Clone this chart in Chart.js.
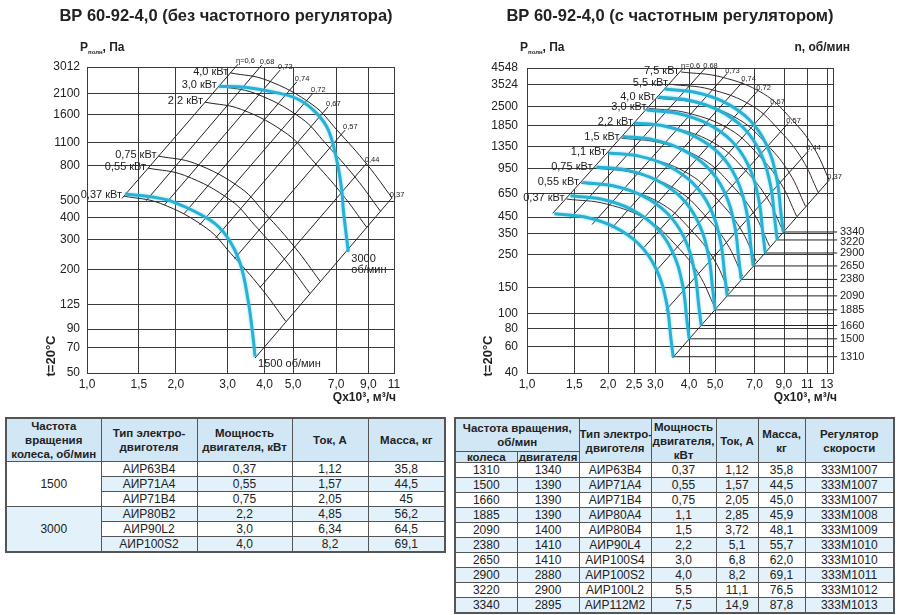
<!DOCTYPE html>
<html>
<head>
<meta charset="utf-8">
<script src="https://cdn.jsdelivr.net/npm/chart.js@4.4.1/dist/chart.umd.min.js"></script>
<style>
body{margin:0;width:900px;height:615px;background:#fff;position:relative;overflow:hidden;font-family:"Liberation Sans",Arial,sans-serif}
canvas{position:absolute;top:0}
#leftChart{left:0}
#rightChart{left:450px}
table{position:absolute;border-collapse:collapse;table-layout:fixed;color:#222;font-size:12px;border:2px solid #555}
th,td{border:1px solid #555;padding:0;text-align:center;white-space:nowrap;overflow:hidden}
th{background:#d2e7f5;font-weight:bold;font-size:11.5px;line-height:14px}
td{height:14px;line-height:14px}
tr.b td,td.b{background:#e3f1fa}
td.w{background:#fff}
</style>
</head>
<body>
<canvas id="leftChart" width="450" height="405"></canvas>
<canvas id="rightChart" width="450" height="405"></canvas>

<table style="left:5px;top:417px;width:439px">
<colgroup><col style="width:95px"><col style="width:96px"><col style="width:95px"><col style="width:76px"><col style="width:77px"></colgroup>
<tr><th style="height:42px">Частота<br>вращения<br>колеса, об/мин</th><th>Тип электро-<br>двиготеля</th><th>Мощность<br>двигателя, кВт</th><th>Ток, А</th><th>Масса, кг</th></tr>
<tr><td class="w" rowspan="3">1500</td><td>АИР63В4</td><td>0,37</td><td>1,12</td><td>35,8</td></tr>
<tr class="b"><td>АИР71А4</td><td>0,55</td><td>1,57</td><td>44,5</td></tr>
<tr><td>АИР71В4</td><td>0,75</td><td>2,05</td><td>45</td></tr>
<tr class="b"><td class="b" rowspan="3">3000</td><td>АИР80В2</td><td>2,2</td><td>4,85</td><td>56,2</td></tr>
<tr><td>АИР90L2</td><td>3,0</td><td>6,34</td><td>64,5</td></tr>
<tr class="b"><td>АИР100S2</td><td>4,0</td><td>8,2</td><td>69,1</td></tr>
</table>

<table style="left:454px;top:417px;width:439px">
<colgroup><col style="width:62px"><col style="width:62px"><col style="width:72px"><col style="width:65px"><col style="width:42px"><col style="width:47px"><col style="width:89px"></colgroup>
<tr><th colspan="2" style="height:32px">Частота вращения,<br>об/мин</th><th rowspan="2">Тип электро-<br>двиготеля</th><th rowspan="2">Мощность<br>двигателя,<br>кВт</th><th rowspan="2">Ток, А</th><th rowspan="2">Масса,<br>кг</th><th rowspan="2">Регулятор<br>скорости</th></tr>
<tr><th style="height:10px;line-height:10px">колеса</th><th style="line-height:10px">двигателя</th></tr>
<tr><td>1310</td><td>1340</td><td>АИР63В4</td><td>0,37</td><td>1,12</td><td>35,8</td><td>333М1007</td></tr>
<tr class="b"><td>1500</td><td>1390</td><td>АИР71А4</td><td>0,55</td><td>1,57</td><td>44,5</td><td>333М1007</td></tr>
<tr><td>1660</td><td>1390</td><td>АИР71В4</td><td>0,75</td><td>2,05</td><td>45,0</td><td>333М1007</td></tr>
<tr class="b"><td>1885</td><td>1390</td><td>АИР80А4</td><td>1,1</td><td>2,85</td><td>45,9</td><td>333М1008</td></tr>
<tr><td>2090</td><td>1400</td><td>АИР80В4</td><td>1,5</td><td>3,72</td><td>48,1</td><td>333М1009</td></tr>
<tr class="b"><td>2380</td><td>1410</td><td>АИР90L4</td><td>2,2</td><td>5,1</td><td>55,7</td><td>333М1010</td></tr>
<tr><td>2650</td><td>1410</td><td>АИР100S4</td><td>3,0</td><td>6,8</td><td>62,0</td><td>333М1010</td></tr>
<tr class="b"><td>2900</td><td>2880</td><td>АИР100S2</td><td>4,0</td><td>8,2</td><td>69,1</td><td>333М1011</td></tr>
<tr><td>3220</td><td>2900</td><td>АИР100L2</td><td>5,5</td><td>11,1</td><td>76,5</td><td>333М1012</td></tr>
<tr class="b"><td>3340</td><td>2895</td><td>АИР112М2</td><td>7,5</td><td>14,9</td><td>87,8</td><td>333М1013</td></tr>
</table>

<script>
// ---- left chart: без частотного регулятора ----
const leftXTicks = [1, 1.5, 2, 3, 4, 5, 7, 9, 11];
const leftXLabels = ["1,0", "1,5", "2,0", "3,0", "4,0", "5,0", "7,0", "9,0", "11"];
const leftYTicks = [50, 70, 90, 125, 200, 300, 400, 500, 800, 1100, 1600, 2100, 3012];

const leftArcLabels = ["4,0 кВт", "3,0 кВт", "2,2 кВт", "0,75 кВт", "0,55 кВт", "0,37 кВт"];
const leftArcQ = [
  [3.063, 4.071, 5.845, 7.050, 8.933, 10.84],
  [2.800, 3.721, 5.343, 6.445, 8.166, 9.905],
  [2.514, 3.341, 4.797, 5.786, 7.332, 8.893],
  [1.747, 2.321, 3.333, 4.020, 5.094, 6.179],
  [1.612, 2.142, 3.075, 3.710, 4.701, 5.701],
  [1.335, 1.774, 2.548, 3.073, 3.894, 4.723]
];
const leftArcP = [
  [2785, 2526, 1807, 1293, 812.7, 520.5],
  [2331, 2114, 1513, 1083, 680.2, 435.7],
  [1881, 1706, 1221, 873.5, 548.9, 351.6],
  [913.3, 828.3, 592.7, 424.1, 266.5, 170.7],
  [777.7, 705.3, 504.7, 361.2, 226.9, 145.4],
  [534.6, 484.8, 347.0, 248.3, 156.0, 99.9]
];

const leftEtaLabels = ["η=0,6", "0,68", "0,73", "0,74", "0,72", "0,67", "0,57", "0,44", "0,37"];
const leftEtaQ = [[1.3145, 3.253], [1.586, 3.915], [1.832, 4.517], [2.134, 5.147], [2.408, 5.845],
  [2.729, 6.572], [3.166, 7.505], [3.864, 8.893], [3.716, 10.81]];
const leftEtaP = [[518.4, 3129], [502, 3088], [475.2, 2888], [421.8, 2469], [362.6, 2122],
  [304.7, 1767], [231.6, 1293], [157.5, 831.4], [61.1, 520.5]];

const leftBlueNames = [["1500 об/мин"], ["3000", "об/мин"]];
const leftBlueQ = [
  [1.346, 1.636, 1.958, 2.614, 2.986, 3.305, 3.518, 3.657, 3.716],
  [2.80, 3.483, 4.517, 5.281, 6.016, 6.588, 7.034, 7.315, 7.406, 7.70]
];
const leftBlueP = [
  [549, 530, 495, 387.7, 310, 218, 132.9, 81.3, 62.2],
  [2331, 2290, 2115, 1931, 1618, 1294, 865.6, 579, 443, 253.6]
];

// ---- right chart: с частотным регулятором ----
const rightXTicks = [1, 1.5, 2, 2.5, 3, 4, 5, 7, 9, 11, 13];
const rightXLabels = ["1,0", "1,5", "2,0", "2,5", "3,0", "4,0", "5,0", "7,0", "9,0", "11", "13"];
const rightYTicks = [40, 60, 80, 100, 150, 250, 350, 450, 650, 950, 1350, 1850, 2500, 3524, 4548];

const rightArcLabels = ["7,5 кВт", "5,5 кВт", "4,0 кВт", "3,0 кВт", "2,2 кВт", "1,5 кВт", "1,1 кВт", "0,75 кВт", "0,55 кВт", "0,37 кВт"];
const rightArcQ = [
  [3.738, 5.265, 7.543, 9.586, 11.57, 13.27],
  [3.399, 4.787, 6.859, 8.717, 10.52, 12.07],
  [3.051, 4.297, 6.157, 7.825, 9.446, 10.83],
  [2.828, 3.983, 5.706, 7.252, 8.755, 10.04],
  [2.519, 3.548, 5.083, 6.460, 7.798, 8.943],
  [2.244, 3.161, 4.528, 5.755, 6.948, 7.967],
  [1.999, 2.815, 4.034, 5.126, 6.188, 7.097],
  [1.781, 2.508, 3.594, 4.567, 5.514, 6.323],
  [1.586, 2.234, 3.201, 4.068, 4.912, 5.632],
  [1.402, 1.975, 2.830, 3.597, 4.342, 4.979]
];
const rightArcP = [
  [4275, 3957, 3060, 2064, 1338, 798.6],
  [3533, 3270, 2529, 1706, 1106, 660],
  [2844, 2632, 2035, 1373, 890, 531],
  [2435, 2254, 1743, 1176, 762, 455],
  [1931, 1787, 1382, 932.5, 604.4, 360.7],
  [1531, 1417, 1096, 739.3, 479.2, 286],
  [1213, 1123, 868.1, 585.8, 379.7, 226.6],
  [962, 890.3, 688.5, 464.6, 301.1, 179.7],
  [762.4, 705.6, 545.7, 368.2, 238.6, 142.4],
  [595, 550.7, 425.8, 287.3, 186.2, 111.1]
];

const rightEtaLabels = ["η=0,6", "0,68", "0,73", "0,74", "0,72", "0,67", "0,57", "0,44", "0,37"];
const rightEtaQ = [[1.246, 3.80], [1.445, 4.59], [1.745, 5.542], [2.062, 6.356], [2.374, 7.226],
  [2.723, 8.146], [3.036, 9.343], [3.276, 11.09], [3.47, 13.27]];
const rightEtaP = [[476.9, 4527], [440, 4527], [400.9, 4190], [377.4, 3701], [336.5, 3220],
  [281.2, 2592], [198.1, 1931], [105.8, 1252], [50.5, 798.6]];

const rightRpm = [3340, 3220, 2900, 2650, 2380, 2090, 1885, 1660, 1500, 1310];
const rightRpmLineEndQ = 14.2;
const rightBlueQ = [
  [3.243, 4.207, 5.406, 6.685, 7.726, 8.445, 8.776, 8.951],
  [3.080, 3.996, 5.135, 6.350, 7.338, 8.022, 8.336, 8.502],
  [2.780, 3.606, 4.634, 5.731, 6.623, 7.239, 7.523, 7.673],
  [2.508, 3.254, 4.181, 5.171, 5.976, 6.532, 6.788, 6.923],
  [2.263, 2.936, 3.773, 4.666, 5.392, 5.894, 6.125, 6.247],
  [2.008, 2.604, 3.347, 4.139, 4.783, 5.228, 5.433, 5.542],
  [1.812, 2.350, 3.020, 3.735, 4.316, 4.718, 4.903, 5.001],
  [1.607, 2.085, 2.679, 3.313, 3.829, 4.185, 4.349, 4.436],
  [1.450, 1.881, 2.417, 2.989, 3.455, 3.776, 3.925, 4.003],
  [1.264, 1.640, 2.108, 2.607, 3.013, 3.293, 3.422, 3.490]
];
const rightBlueP = [
  [3280, 3121, 2678, 2045, 1403, 839.4, 480.5, 356.9],
  [2898, 2758, 2366, 1807, 1240, 741.6, 424.6, 315.3],
  [2368, 2253, 1933, 1476, 1013, 606.0, 346.9, 257.6],
  [1937, 1843, 1581, 1208, 828.8, 495.7, 283.8, 210.7],
  [1572, 1496, 1283, 980.1, 672.7, 402.3, 230.3, 171.0],
  [1217, 1158, 993.6, 758.8, 520.8, 311.4, 178.3, 132.4],
  [980, 932.6, 800.1, 611.0, 419.3, 250.8, 143.6, 106.6],
  [768.4, 731.2, 627.3, 479.1, 328.8, 196.6, 112.6, 83.6],
  [625.4, 595.1, 510.6, 389.9, 267.6, 160.0, 91.6, 68.0],
  [473.2, 450.3, 386.3, 295.0, 202.5, 121.1, 69.3, 51.5]
];

const FONT = '"Liberation Sans", Arial, sans-serif';
const GRID = "#3a3a3a";
const BLUE = "#27b2d5";
const INK = "#222";

function pts(qs, ps) {
  return qs.map((q, i) => ({ x: q, y: ps[i] }));
}

function lineSet(qs, ps, color, width, tension, order) {
  return {
    data: pts(qs, ps),
    borderColor: color,
    borderWidth: width,
    pointRadius: 0,
    tension: tension,
    fill: false,
    clip: false,
    order: order
  };
}

function font(weight, size) {
  return `${weight} ${size}px ${FONT}`;
}

function makeDecor(cfg) {
  return {
    id: "decor",
    beforeDatasetsDraw(chart) {
      if (!cfg.clipEta) return;
      const { ctx, chartArea: a, scales: { x, y } } = chart;
      const [qb, qt] = cfg.clipEta.q;
      const [pb, pt] = cfg.clipEta.p;
      ctx.save();
      ctx.strokeStyle = GRID;
      ctx.lineWidth = 1;
      cfg.xTicks.forEach(v => {
        if (v <= x.min || v >= x.max) return;
        let top = a.top;
        if (v < qt) {
          const t = (Math.log(v) - Math.log(qb)) / (Math.log(qt) - Math.log(qb));
          const p = Math.exp(Math.log(pb) + t * (Math.log(pt) - Math.log(pb)));
          top = Math.max(a.top, y.getPixelForValue(p));
        }
        const px = Math.round(x.getPixelForValue(v)) + 0.5;
        ctx.beginPath();
        ctx.moveTo(px, a.bottom);
        ctx.lineTo(px, top);
        ctx.stroke();
      });
      ctx.restore();
    },
    beforeDatasetDraw(chart, args) {
      if (args.meta.controller.getDataset().order !== 0) return;
      chart.ctx.save();
      chart.ctx.shadowColor = "rgba(90,200,230,0.7)";
      chart.ctx.shadowBlur = 3;
    },
    afterDatasetDraw(chart, args) {
      if (args.meta.controller.getDataset().order !== 0) return;
      chart.ctx.restore();
    },
    afterDraw(chart) {
      const { ctx, chartArea: a, scales: { x, y } } = chart;
      ctx.save();
      ctx.strokeStyle = GRID;
      ctx.lineWidth = 1;
      ctx.strokeRect(Math.round(a.left) + 0.5, Math.round(a.top) + 0.5,
        Math.round(a.right) - Math.round(a.left), Math.round(a.bottom) - Math.round(a.top));

      ctx.fillStyle = INK;
      // title
      ctx.font = font("bold", 16.5);
      ctx.textAlign = "center";
      ctx.textBaseline = "middle";
      ctx.fillText(cfg.title, cfg.titleX, 16);

      // P полн, Па
      ctx.textAlign = "left";
      ctx.textBaseline = "alphabetic";
      ctx.font = font("bold", 12);
      ctx.fillText("P", cfg.pX, 51);
      let w = ctx.measureText("P").width;
      ctx.font = font("bold", 6);
      ctx.fillText("полн", cfg.pX + w, 54);
      w += ctx.measureText("полн").width;
      ctx.font = font("bold", 12);
      ctx.fillText(", Па", cfg.pX + w, 51);

      if (cfg.nLabel) {
        ctx.textAlign = "right";
        ctx.fillText(cfg.nLabel, 400, 51);
      }

      // Q axis title
      ctx.textAlign = "right";
      ctx.font = font("bold", 12);
      ctx.fillText("Qx10³, м³/ч", a.right + cfg.qDx, 401);

      // t=20°C
      ctx.save();
      ctx.translate(cfg.tX, 356);
      ctx.rotate(-Math.PI / 2);
      ctx.textAlign = "center";
      ctx.textBaseline = "middle";
      ctx.font = font("bold", 13);
      ctx.fillText("t=20°C", 0, 0);
      ctx.restore();

      // power labels at arc starts
      ctx.font = font("normal", 11);
      ctx.textAlign = "right";
      ctx.textBaseline = "middle";
      cfg.arcLabels.forEach((s, i) => {
        const px = x.getPixelForValue(cfg.arcQ[i][0]);
        const py = y.getPixelForValue(cfg.arcP[i][0]);
        ctx.fillText(s, px - 2, py - 1);
      });

      // efficiency labels at line tops
      ctx.font = font("normal", 7.5);
      ctx.textAlign = "left";
      ctx.textBaseline = "bottom";
      cfg.etaLabels.forEach((s, i) => {
        const px = x.getPixelForValue(cfg.etaQ[i][1]);
        const py = y.getPixelForValue(cfg.etaP[i][1]);
        ctx.fillText(s, px - 2, py + 1);
      });

      // speed labels
      ctx.font = font("normal", 11);
      ctx.textAlign = "left";
      ctx.textBaseline = "middle";
      if (cfg.blueNames) {
        cfg.blueNames.forEach((lines, i) => {
          const q = cfg.blueQ[i], p = cfg.blueP[i];
          const px = x.getPixelForValue(q[q.length - 1]);
          const py = y.getPixelForValue(p[p.length - 1]);
          lines.forEach((s, k) => ctx.fillText(s, px + 3, py + 7 + k * 11));
        });
      }
      if (cfg.rpm) {
        let prev = -Infinity;
        cfg.rpm.forEach((r, i) => {
          const p = cfg.blueP[i];
          let py = y.getPixelForValue(p[p.length - 1]);
          if (py - prev < 10) py = prev + 10;
          prev = py;
          ctx.fillText(String(r), a.right + 7, py);
        });
      }
      ctx.restore();
    }
  };
}

function logAxis(min, max, ticks, labels, pad, showGrid) {
  return {
    type: "logarithmic",
    min: min,
    max: max,
    afterBuildTicks: s => { s.ticks = ticks.map(v => ({ value: v })); },
    ticks: {
      autoSkip: false,
      maxRotation: 0,
      padding: pad,
      color: INK,
      font: { size: 12, family: FONT },
      callback: (v, i) => labels[i]
    },
    grid: { display: showGrid, color: GRID, lineWidth: 1, drawTicks: false },
    border: { display: false }
  };
}

function buildChart(id, c) {
  const datasets = [];
  c.blueQ.forEach((q, i) => datasets.push(lineSet(q, c.blueP[i], BLUE, 3, 0.4, 0)));
  c.arcQ.forEach((q, i) => datasets.push(lineSet(q, c.arcP[i], c.arcColor, 1, 0.4, 1)));
  c.etaQ.forEach((q, i) => datasets.push(lineSet(q, c.etaP[i], INK, 1, 0, 1)));
  if (c.rpm) {
    c.blueQ.forEach((q, i) => {
      const pEnd = c.blueP[i][c.blueP[i].length - 1];
      datasets.push(lineSet([q[q.length - 1], rightRpmLineEndQ], [pEnd, pEnd], INK, 1, 0, 1));
    });
  }

  const xAxis = logAxis(c.xMin, c.xMax, c.xTicks, c.xLabels, 4, !c.clipEta);
  xAxis.afterFit = s => { s.height = 32; };
  const yAxis = logAxis(c.yMin, c.yMax, c.yTicks, c.yTicks.map(String), c.yPad, true);
  yAxis.afterFit = s => { s.width = c.yWidth; };

  return new Chart(document.getElementById(id), {
    type: "line",
    data: { datasets },
    options: {
      responsive: false,
      animation: false,
      devicePixelRatio: 1,
      events: [],
      parsing: false,
      layout: { padding: { left: 0, right: c.padRight, top: c.padTop, bottom: 0 } },
      plugins: { legend: { display: false }, tooltip: { enabled: false } },
      scales: { x: xAxis, y: yAxis }
    },
    plugins: [makeDecor(c)]
  });
}

buildChart("leftChart", {
  title: "ВР 60-92-4,0 (без частотного регулятора)", titleX: 226,
  pX: 80, tX: 51, qDx: 2, nLabel: null,
  xMin: 1, xMax: 11, yMin: 50, yMax: 3012,
  xTicks: leftXTicks, xLabels: leftXLabels, yTicks: leftYTicks,
  yWidth: 87, yPad: 7, padRight: 56, padTop: 67,
  arcQ: leftArcQ, arcP: leftArcP, arcLabels: leftArcLabels, arcColor: INK,
  etaQ: leftEtaQ, etaP: leftEtaP, etaLabels: leftEtaLabels,
  blueQ: leftBlueQ, blueP: leftBlueP, blueNames: leftBlueNames,
  rpm: null, clipEta: null
});

buildChart("rightChart", {
  title: "ВР 60-92-4,0 (с частотным регулятором)", titleX: 220,
  pX: 70, tX: 38, qDx: 4, nLabel: "n, об/мин",
  xMin: 1, xMax: 13.7, yMin: 40, yMax: 4548,
  xTicks: rightXTicks, xLabels: rightXLabels, yTicks: rightYTicks,
  yWidth: 77, yPad: 9, padRight: 67, padTop: 68,
  arcQ: rightArcQ, arcP: rightArcP, arcLabels: rightArcLabels, arcColor: "#3a2626",
  etaQ: rightEtaQ, etaP: rightEtaP, etaLabels: rightEtaLabels,
  blueQ: rightBlueQ, blueP: rightBlueP, blueNames: null,
  rpm: rightRpm, clipEta: { q: rightEtaQ[0], p: rightEtaP[0] }
});
</script>
</body>
</html>
